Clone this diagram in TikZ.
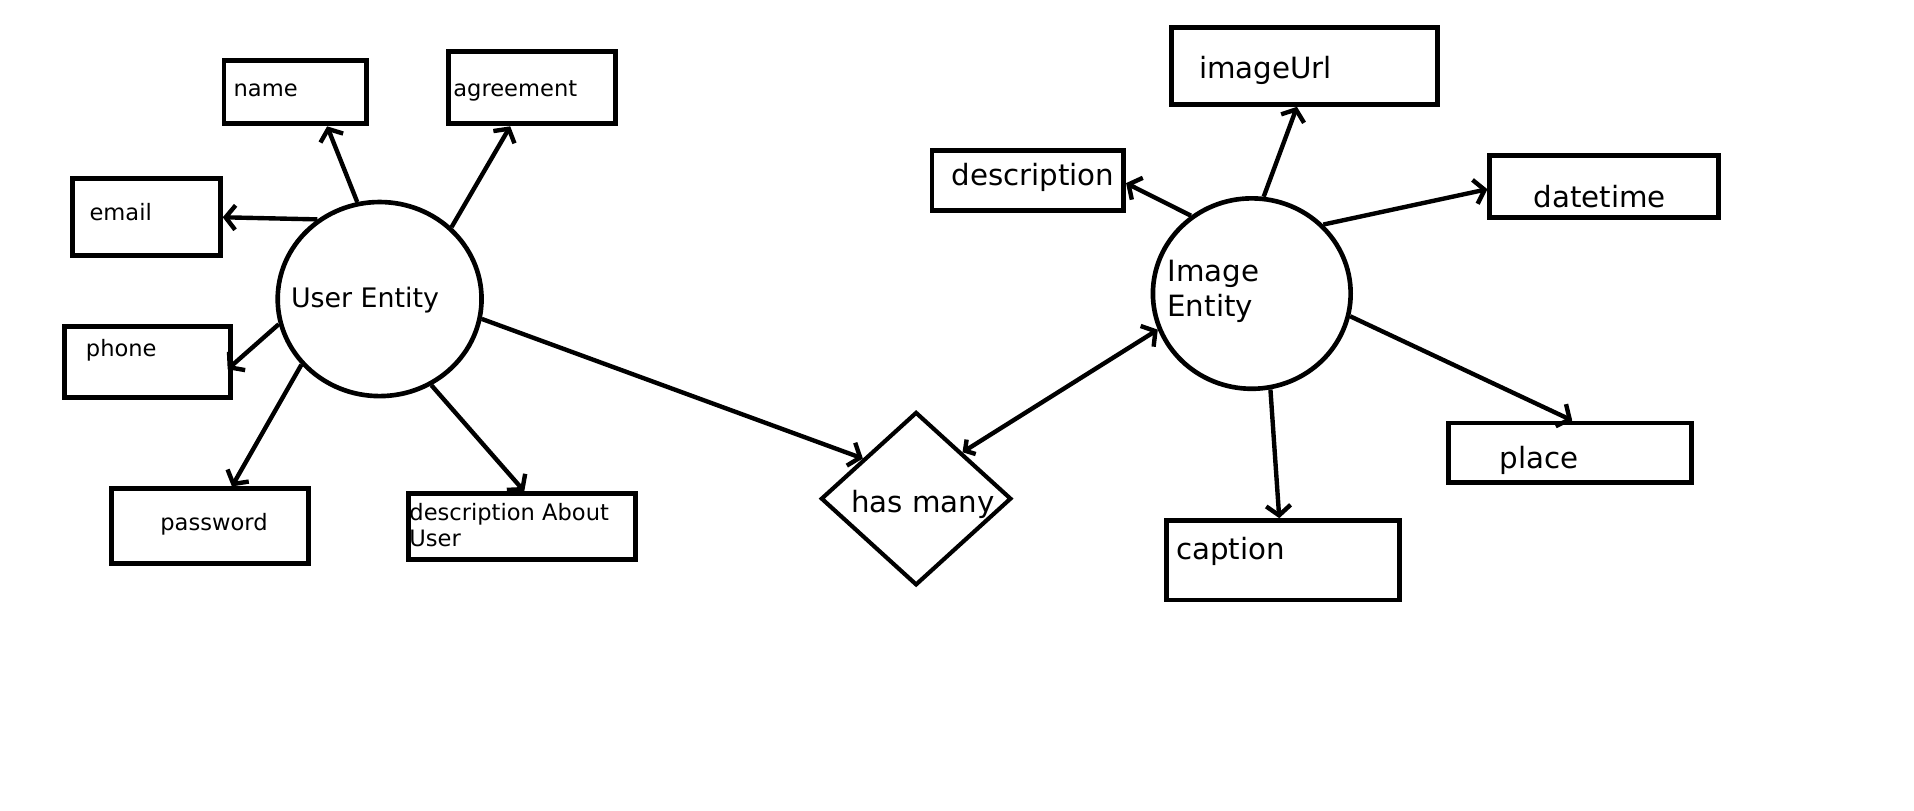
\documentclass[tikz,border=0pt]{standalone}
\usepackage{fontspec}
\setmainfont{DejaVu Sans}
\usetikzlibrary{arrows.meta,shapes.geometric,calc}
\begin{document}
\begin{tikzpicture}[x=0.5pt,y=-0.5pt,
  box/.style={draw,line width=2pt,rectangle,inner sep=0pt},
  ent/.style={draw,line width=1.9pt,ellipse,inner sep=0pt},
  rel/.style={draw,line width=1.7pt,diamond,inner sep=0pt},
  conn/.style={line width=1.8pt,-{Straight Barb[length=4pt,width=10pt]}},
  bconn/.style={line width=1.8pt,{Straight Barb[length=3pt,width=7pt]}-{Straight Barb[length=4pt,width=10pt]}},
  small/.style={font=\fontsize{9.25}{10.5}\selectfont,anchor=base west,inner sep=0pt},
  big/.style={font=\fontsize{12}{14}\selectfont,anchor=base west,inner sep=0pt},
]
\useasboundingbox (0,0) rectangle (1568,664);

% ---- user side boxes
\node[box,minimum width=58.5pt,minimum height=26pt] (name) at (242,75.5) {};
\node[box,minimum width=68.5pt,minimum height=29.5pt] (agreement) at (436,72) {};
\node[box,minimum width=60.5pt,minimum height=31.5pt] (email) at (120,178) {};
\node[box,minimum width=68pt,minimum height=29pt] (phone) at (120.5,296.5) {};
\node[box,minimum width=80.5pt,minimum height=30.5pt] (password) at (172,431) {};
\node[box,minimum width=93pt,minimum height=27pt] (descuser) at (427.5,431.5) {};
\node[ent,minimum width=83.5pt,minimum height=79.5pt] (user) at (311,245) {};

% ---- relationship
\node[rel,minimum width=78pt,minimum height=71pt] (hasmany) at (750.5,408.5) {};

% ---- image side boxes
\node[box,minimum width=109pt,minimum height=31.5pt] (imageurl) at (1068.5,54) {};
\node[box,minimum width=78.5pt,minimum height=24.5pt] (descimg) at (842,148) {};
\node[box,minimum width=93.5pt,minimum height=25.5pt] (datetime) at (1314,153) {};
\node[box,minimum width=99.5pt,minimum height=24.5pt] (place) at (1286,371) {};
\node[box,minimum width=95.5pt,minimum height=32.5pt] (caption) at (1051,459) {};
\node[ent,minimum width=81pt,minimum height=78pt] (image) at (1025.5,240.5) {};

% ---- texts
\node[small] (tname) at (191,79) {name};
\node[small] (tagree) at (371,79) {agreement};
\node[small] (temail) at (73,181) {email};
\node[small] (tphone) at (70,292) {phone};
\node[small] (tpass) at (131,435) {password};
\node[small,anchor=north west,align=left] (tdesc) at (335,412) {description About\\User};
\node[font=\fontsize{11}{13}\selectfont,anchor=base west,inner sep=0pt] (tuser) at (238,252) {User Entity};
\node[big] (thas) at (697,420) {has many};
\node[big] (turl) at (982,64) {imageUrl};
\node[big] (tdimg) at (779,152) {description};
\node[big] (tdate) at (1256,170) {datetime};
\node[big] (tplace) at (1228,384) {place};
\node[big] (tcap) at (963,458) {caption};
\node[big,anchor=north west,align=left] (timg) at (956,213) {Image\\Entity};

% ---- connectors (user)
\draw[conn] (user.103.5) -- ($(name.south)+(26,0)$);
\draw[conn] (user.45.5) -- ($(agreement.south)+(-18,0)$);
\draw[conn] (user.128) -- (email.east);
\draw[conn] (user.194) -- ($(phone.east)+(-4,6)$);
\draw[conn] (user.220) -- ($(password.north)+(18,0)$);
\draw[conn] (user.301.6) -- ($(descuser.north)+(2,0)$);
\draw[conn] (user.349) -- (hasmany.143);

% ---- connectors (image)
\draw[bconn] (hasmany.45.8) -- (image.201);
\draw[conn] (image.83) -- ($(imageurl.south)+(-6,0)$);
\draw[conn] (image.128) -- ($(descimg.east)+(0,2)$);
\draw[conn] (image.44.5) -- ($(datetime.west)+(0,2)$);
\draw[conn] (image.347.6) -- ($(place.north)+(2,0)$);
\draw[conn] (image.281) -- ($(caption.north)+(-3,0)$);
\end{tikzpicture}
\end{document}
